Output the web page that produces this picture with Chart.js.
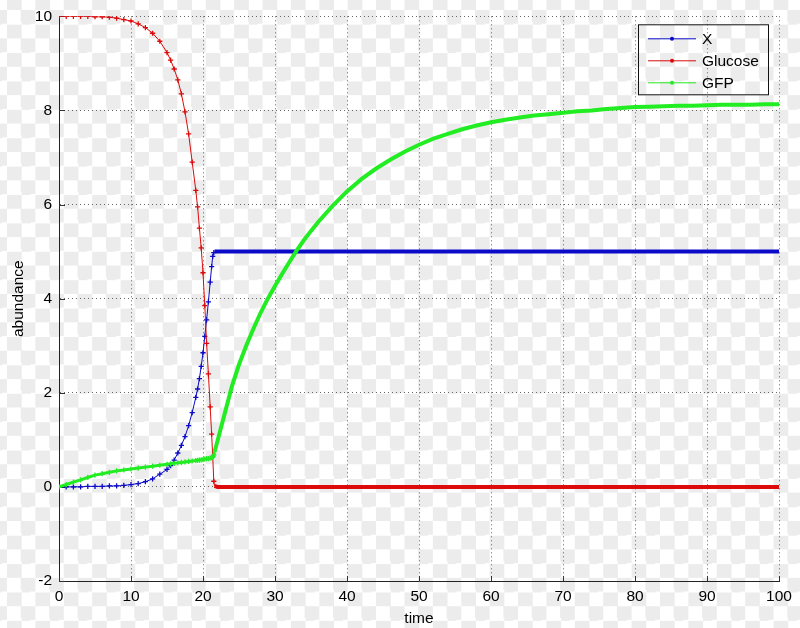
<!DOCTYPE html>
<html>
<head>
<meta charset="utf-8">
<script src="https://cdn.jsdelivr.net/npm/chart.js"></script>
<style>
  html, body { margin: 0; padding: 0; }
  body {
    width: 800px; height: 628px;
    background: repeating-conic-gradient(#ececec 0 25%, #ffffff 0 50%) 7px 10px / 28.4px 28.4px;
  }
  canvas { display: block; }
</style>
</head>
<body>
<canvas id="chart" width="800" height="628"></canvas>
<script>
// simulation output
const time = [0, 1, 2, 3, 4, 5, 6, 7, 8, 9, 10, 11, 12, 13, 14,
  15, 15.5, 16, 16.5, 17, 17.5, 18, 18.5, 19, 19.25, 19.5, 19.75, 20, 20.25, 20.5, 20.75, 21, 21.2, 21.35, 21.5, 21.6,
  22, 23, 24, 25, 26, 27, 28, 29, 30, 31, 32, 33, 34, 35, 36,
  38, 40, 42, 44, 46, 48, 50, 52, 54, 56, 58, 60, 62, 64, 66, 68, 70, 72, 74, 76, 78, 80, 82, 84, 86, 88, 90, 92, 94, 96, 98, 100];

const xVals = [0, 0, 0, 0, 0.01, 0.01, 0.01, 0.02, 0.02, 0.03, 0.05, 0.07, 0.11, 0.17, 0.27,
  0.37, 0.45, 0.57, 0.72, 0.88, 1.07, 1.3, 1.58, 1.9, 2.08, 2.3, 2.56, 2.85, 3.2, 3.55, 3.93, 4.35, 4.68, 4.9, 4.98, 5,
  5, 5, 5, 5, 5, 5, 5, 5, 5, 5, 5, 5, 5, 5, 5,
  5, 5, 5, 5, 5, 5, 5, 5, 5, 5, 5, 5, 5, 5, 5, 5, 5, 5, 5, 5, 5, 5, 5, 5, 5, 5, 5, 5, 5, 5, 5, 5];

const glucose = [10, 10, 10, 10, 10, 9.99, 9.99, 9.98, 9.96, 9.93, 9.9, 9.84, 9.76, 9.64, 9.47,
  9.23, 9.07, 8.88, 8.65, 8.35, 7.97, 7.5, 6.9, 6.3, 5.95, 5.5, 5.08, 4.55, 3.85, 3.05, 2.4, 1.7, 1.12, 0.65, 0.12, 0.02,
  0, 0, 0, 0, 0, 0, 0, 0, 0, 0, 0, 0, 0, 0, 0,
  0, 0, 0, 0, 0, 0, 0, 0, 0, 0, 0, 0, 0, 0, 0, 0, 0, 0, 0, 0, 0, 0, 0, 0, 0, 0, 0, 0, 0, 0, 0, 0];

const gfp = [0, 0.05, 0.1, 0.15, 0.2, 0.25, 0.28, 0.31, 0.34, 0.36, 0.38, 0.4, 0.42, 0.44, 0.46,
  0.48, 0.49, 0.5, 0.51, 0.52, 0.53, 0.54, 0.55, 0.56, 0.565, 0.57, 0.575, 0.58, 0.59, 0.6, 0.6, 0.61, 0.62, 0.63, 0.68, 0.74,
  0.97, 1.55, 2.13, 2.6, 3.0, 3.36, 3.7, 4.0, 4.27, 4.53, 4.78, 5.02, 5.24, 5.44, 5.63,
  5.97, 6.28, 6.54, 6.76, 6.95, 7.12, 7.27, 7.4, 7.5, 7.6, 7.68, 7.75, 7.8, 7.85, 7.89, 7.92, 7.95, 7.98, 8.0, 8.03, 8.05, 8.07, 8.08, 8.09, 8.1, 8.1, 8.11, 8.12, 8.12, 8.12, 8.13, 8.13];

const labels = ['X', 'Glucose', 'GFP'];
const colors = ['#0a0ac8', '#dc0a0a', '#22ec22'];
const xTicks = { min: 0, max: 100, step: 10 };
const yTicks = { min: -2, max: 10, step: 2 };

const FONT = 'Liberation Sans, Arial, Helvetica, sans-serif';
const FS = 15.5;
const stepT = 21.6; // after this the solver output is dense

function pts(vals) {
  return vals.map((v, i) => ({ x: time[i], y: v }));
}

function series(i, vals, thin, order) {
  return {
    label: labels[i],
    data: pts(vals),
    borderColor: colors[i],
    backgroundColor: colors[i],
    borderWidth: thin,
    pointStyle: 'cross',
    pointBorderWidth: 1.3,
    pointRadius: c => time[c.dataIndex] < stepT ? 2.6 : 0,
    pointHoverRadius: 0,
    segment: {
      borderWidth: c => c.p0.parsed.x >= stepT ? 4 : thin
    },
    order: order,
    tension: 0
  };
}

// ticks drawn on the inside of the axes
const innerTicks = {
  id: 'innerTicks',
  beforeDatasetsDraw(chart) {
    const { ctx, chartArea: a, scales: { x, y } } = chart;
    ctx.save();
    ctx.strokeStyle = '#333';
    ctx.lineWidth = 1;
    ctx.beginPath();
    x.ticks.forEach(t => {
      const px = Math.round(x.getPixelForValue(t.value)) + 0.5;
      ctx.moveTo(px, a.bottom);
      ctx.lineTo(px, a.bottom - 5);
    });
    y.ticks.forEach(t => {
      const py = Math.round(y.getPixelForValue(t.value)) + 0.5;
      ctx.moveTo(a.left, py);
      ctx.lineTo(a.left + 6, py);
    });
    ctx.stroke();
    ctx.restore();
  }
};

// boxed legend in the upper right corner
const boxLegend = {
  id: 'boxLegend',
  afterDraw(chart) {
    const { ctx, chartArea: a } = chart;
    const bx = a.right - 141, by = a.top + 8, bw = 130, bh = 70;
    ctx.save();
    ctx.strokeStyle = '#111';
    ctx.lineWidth = 1;
    ctx.strokeRect(bx + 0.5, by + 0.5, bw, bh);
    ctx.font = FS + 'px ' + FONT;
    ctx.textBaseline = 'middle';
    chart.data.datasets.forEach((ds, i) => {
      const ly = by + 14 + i * 22;
      ctx.strokeStyle = ds.borderColor;
      ctx.lineWidth = 1;
      ctx.beginPath();
      ctx.moveTo(bx + 10, ly + 0.5);
      ctx.lineTo(bx + 58, ly + 0.5);
      ctx.stroke();
      ctx.fillStyle = ds.borderColor;
      ctx.beginPath();
      ctx.arc(bx + 34, ly + 0.5, 2, 0, Math.PI * 2);
      ctx.fill();
      ctx.fillStyle = '#000';
      ctx.fillText(ds.label, bx + 64, ly + 1);
    });
    ctx.restore();
  }
};

new Chart(document.getElementById('chart'), {
  type: 'line',
  data: {
    datasets: [
      series(0, xVals, 1, 3),
      series(1, glucose, 1, 2),
      series(2, gfp, 3, 1)
    ]
  },
  options: {
    responsive: false,
    animation: false,
    layout: { padding: { top: 16, right: 21, left: 0, bottom: 0 } },
    plugins: { legend: { display: false }, tooltip: { enabled: false } },
    scales: {
      x: {
        type: 'linear',
        min: xTicks.min, max: xTicks.max,
        ticks: { stepSize: xTicks.step, color: '#000', padding: 6, maxRotation: 0, font: { family: FONT, size: FS } },
        grid: { color: '#666', lineWidth: 1, drawTicks: false },
        border: { display: true, color: '#222', width: 1, dash: [1, 3] },
        title: { display: true, text: 'time', color: '#000', padding: { top: 0, bottom: 0 }, font: { family: FONT, size: FS } },
        afterFit: s => { s.height = 47; }
      },
      y: {
        min: yTicks.min, max: yTicks.max,
        ticks: { stepSize: yTicks.step, color: '#000', padding: 7, font: { family: FONT, size: FS } },
        grid: { color: '#666', lineWidth: 1, drawTicks: false },
        border: { display: true, color: '#222', width: 1, dash: [1, 3] },
        title: { display: true, text: 'abundance', color: '#000', padding: { top: 9, bottom: 0 }, font: { family: FONT, size: FS } },
        afterFit: s => { s.width = 59; }
      }
    }
  },
  plugins: [innerTicks, boxLegend]
});
</script>
</body>
</html>
